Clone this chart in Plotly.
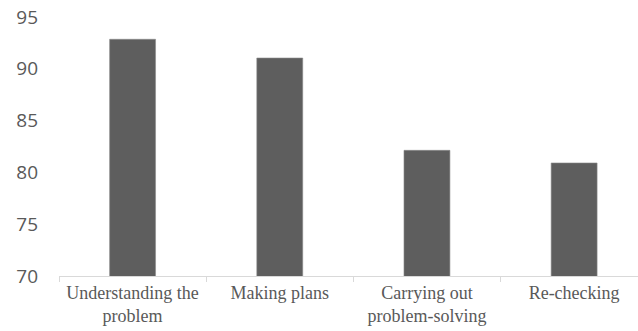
import plotly.graph_objects as go

categories = ["Understanding the<br>problem", "Making plans", "Carrying out<br>problem-solving", "Re-checking"]
values = [92.85, 91.04, 82.13, 80.91]
y_ticks = [70, 75, 80, 85, 90, 95]

fig = go.Figure(go.Bar(
    x=categories, y=values,
    marker=dict(color="#5e5e5e", line=dict(color="#8a8a8a", width=0.6)),
))

fig.update_layout(
    width=638, height=331,
    margin=dict(l=59, r=0, t=17, b=55),
    paper_bgcolor="white", plot_bgcolor="white",
    bargap=0.688,
    showlegend=False,
)
fig.update_xaxes(
    range=[-0.5, 3.434],
    showline=True, linecolor="#d9d9d9", linewidth=1,
    ticks="outside", tickson="boundaries", ticklen=5, tickcolor="#d9d9d9",
    showgrid=False,
    tickfont=dict(family="Liberation Serif, Times New Roman, serif", size=18, color="#595959"),
)
fig.update_yaxes(
    range=[70, 95], tickvals=y_ticks,
    showgrid=False, showline=False, zeroline=False,
    ticklabelstandoff=20,
    tickfont=dict(family="Open Sans", size=19, color="#595959"),
)

fig.write_html("out.html")
